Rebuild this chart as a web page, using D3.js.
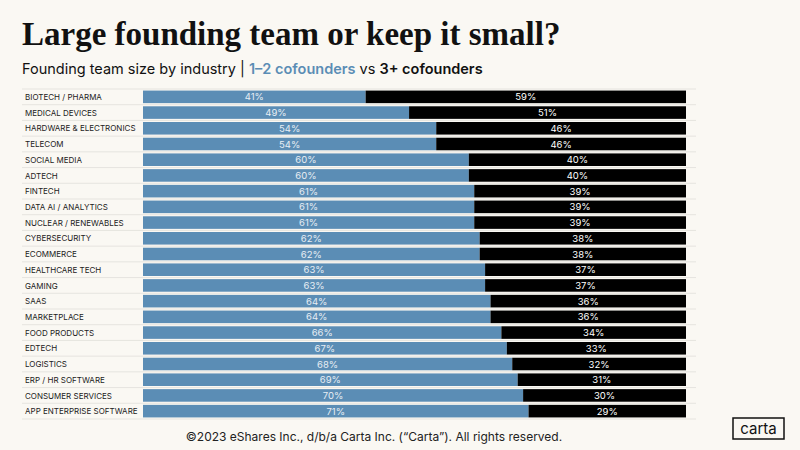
<!DOCTYPE html><html><head><meta charset="utf-8">
<script src="https://cdn.jsdelivr.net/npm/d3@7"></script>
<style>body{margin:0;background:#faf8f3}svg{display:block}</style></head><body>
<svg id="c" width="800" height="450"></svg>
<script>
const categories=["BIOTECH / PHARMA","MEDICAL DEVICES","HARDWARE & ELECTRONICS","TELECOM","SOCIAL MEDIA","ADTECH","FINTECH","DATA AI / ANALYTICS","NUCLEAR / RENEWABLES","CYBERSECURITY","ECOMMERCE","HEALTHCARE TECH","GAMING","SAAS","MARKETPLACE","FOOD PRODUCTS","EDTECH","LOGISTICS","ERP / HR SOFTWARE","CONSUMER SERVICES","APP ENTERPRISE SOFTWARE"];
const small=[41,49,54,54,60,60,61,61,61,62,62,63,63,64,64,66,67,68,69,70,71];
const large=[59,51,46,46,40,40,39,39,39,38,38,37,37,36,36,34,33,32,31,30,29];
const svg=d3.select("#c");
svg.append("rect").attr("width",800).attr("height",450).attr("fill","#faf8f3");
svg.append("text").attr("x",22).attr("y",45).attr("font-family","Liberation Serif, serif").attr("font-weight","bold").attr("font-size",33).attr("fill","#111").text("Large founding team or keep it small?");
const sub=svg.append("text").attr("x",22).attr("y",74).attr("font-family","Inter, sans-serif").attr("font-size",14.5).attr("fill","#111");
sub.append("tspan").text("Founding team size by industry  |  ");
sub.append("tspan").attr("fill","#5b8db5").attr("font-weight","600").text("1–2 cofounders");
sub.append("tspan").text(" vs ");
sub.append("tspan").attr("font-weight","600").text("3+ cofounders");
const y=d3.scaleBand().domain(categories).range([89,419]).paddingInner(0.2).paddingOuter(0.1);
const x=d3.scaleLinear().domain([0,100]).range([143,686]);
const step=y.step();
const g=svg.append("g");
categories.forEach((c,i)=>{
  const yy=y(c);
  g.append("line").attr("x1",22).attr("x2",696).attr("y1",yy+y.bandwidth()+step*0.1).attr("y2",yy+y.bandwidth()+step*0.1).attr("stroke","#e6e4df").attr("stroke-width",1);
  g.append("text").attr("x",25).attr("y",yy+y.bandwidth()/2+3.2).attr("font-family","Inter, sans-serif").attr("font-size",8).attr("fill","#222").text(c);
  g.append("rect").attr("x",x(0)).attr("y",yy).attr("width",x(small[i])-x(0)).attr("height",y.bandwidth()).attr("fill","#5b8db5");
  g.append("rect").attr("x",x(small[i])).attr("y",yy).attr("width",x(100)-x(small[i])).attr("height",y.bandwidth()).attr("fill","#000");
  g.append("text").attr("x",(x(0)+x(small[i]))/2).attr("y",yy+y.bandwidth()/2+3.5).attr("text-anchor","middle").attr("font-family","Inter, sans-serif").attr("font-size",9.5).attr("fill","#e8eef4").text(small[i]+"%");
  g.append("text").attr("x",(x(small[i])+x(100))/2).attr("y",yy+y.bandwidth()/2+3.5).attr("text-anchor","middle").attr("font-family","Inter, sans-serif").attr("font-size",9.5).attr("fill","#fff").text(large[i]+"%");
});
g.append("line").attr("x1",22).attr("x2",696).attr("y1",y(categories[0])-step*0.1).attr("y2",y(categories[0])-step*0.1).attr("stroke","#e6e4df");
svg.append("text").attr("x",374).attr("y",441).attr("text-anchor","middle").attr("font-family","Inter, sans-serif").attr("font-size",12).attr("fill","#222").text("©2023 eShares Inc., d/b/a Carta Inc. (\u201cCarta\u201d). All rights reserved.");
svg.append("rect").attr("x",733).attr("y",418).attr("width",51).attr("height",21).attr("fill","none").attr("stroke","#111").attr("stroke-width",1.5);
svg.append("text").attr("x",758.5).attr("y",434).attr("text-anchor","middle").attr("font-family","Inter, sans-serif").attr("font-size",15).attr("fill","#111").text("carta");
</script></body></html>
